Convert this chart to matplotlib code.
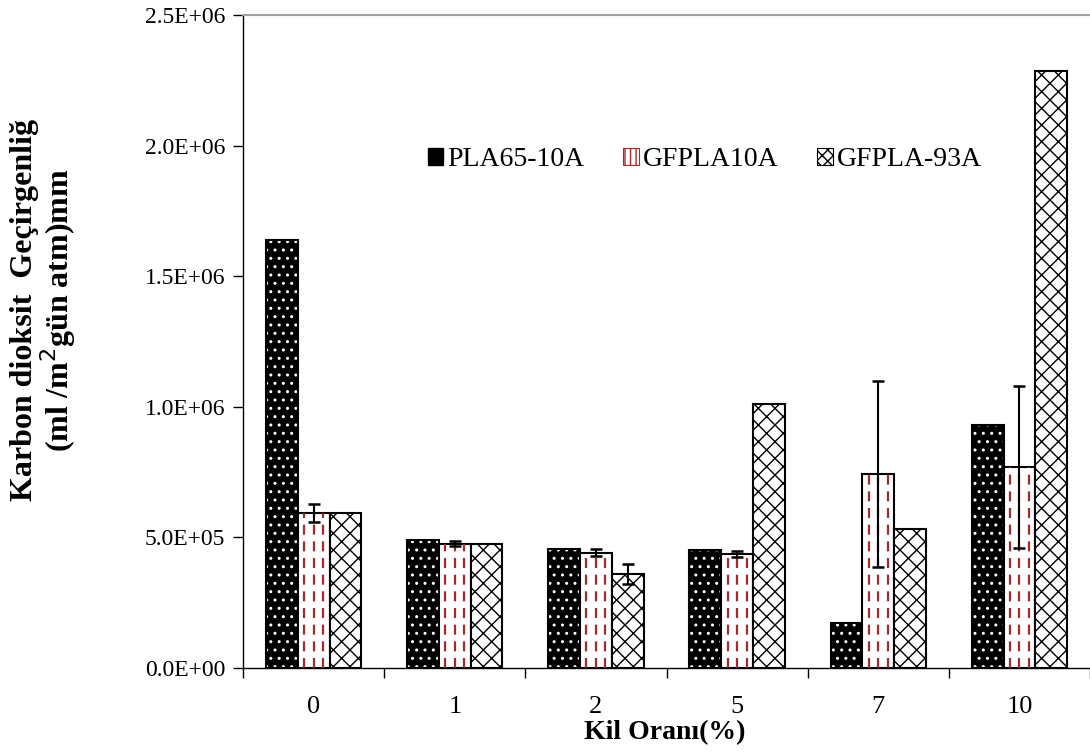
import numpy as np
import matplotlib
matplotlib.use("Agg")
import matplotlib.pyplot as plt
from matplotlib.patches import Patch

plt.rcParams['font.family'] = ['Liberation Serif', 'DejaVu Serif']
plt.rcParams['hatch.linewidth'] = 1.0

# clay ratio categories and CO2 permeability values
categories = ['0', '1', '2', '5', '7', '10']
series_names = ['PLA65-10A', 'GFPLA10A', 'GFPLA-93A']
pla65_10a = [1.64e6, 0.49e6, 0.455e6, 0.452e6, 0.173e6, 0.93e6]
gfpla10a = [0.593e6, 0.476e6, 0.442e6, 0.437e6, 0.743e6, 0.77e6]
gfpla93a = [0.593e6, 0.473e6, 0.359e6, 1.011e6, 0.531e6, 2.285e6]
gfpla10a_err = [0.035e6, 0.01e6, 0.012e6, 0.012e6, 0.355e6, 0.31e6]
gfpla93a_err = [0.0, 0.0, 0.038e6, 0.0, 0.0, 0.0]

x = np.arange(len(categories))
w = 0.225
dark_red = '#a52a2a'

fig = plt.figure(figsize=(10.9, 7.56), dpi=100)
ax = fig.add_axes([0.223, 0.1164, 0.777, 0.8638])

# PLA65-10A: black with white dots
ax.bar(x - w, pla65_10a, w, color='black', edgecolor='white', hatch='..', linewidth=0)
ax.bar(x - w, pla65_10a, w, facecolor='none', edgecolor='black', linewidth=1.5)

# GFPLA10A: white with dashed dark red verticals
ax.bar(x, gfpla10a, w, color='white', linewidth=0)
for xi, h in zip(x, gfpla10a):
    for f in (0.2, 0.5, 0.8):
        ax.vlines(xi - w / 2 + f * w, 0, h, colors=dark_red, linewidth=1.6,
                  linestyles=(0, (4.5, 3)))
ax.bar(x, gfpla10a, w, facecolor='none', edgecolor='black', linewidth=1.5)

# GFPLA-93A: diagonal brick-like hatch
ax.bar(x + w, gfpla93a, w, color='white', edgecolor='black', hatch='xx', linewidth=0)
ax.bar(x + w, gfpla93a, w, facecolor='none', edgecolor='black', linewidth=1.5)

# error bars
for xs, vals, errs in ((x, gfpla10a, gfpla10a_err), (x + w, gfpla93a, gfpla93a_err)):
    for xi, v, e in zip(xs, vals, errs):
        if e > 0:
            ax.errorbar(xi, v, yerr=e, fmt='none', ecolor='black', elinewidth=1.5,
                        capsize=4.5, capthick=1.8)

ax.set_xlim(-0.5, len(categories) - 0.5)
ax.set_ylim(0, 2.5e6)
yt = np.arange(0, 2.51e6, 0.5e6)
ax.set_yticks(yt)
ax.set_yticklabels(['%.1E' % v for v in yt])
ax.set_xticks(x)
ax.set_xticklabels(categories)
ax.set_xticks(np.arange(-0.5, len(categories), 1.0), minor=True)
ax.tick_params(axis='x', which='major', length=0, pad=20, labelsize=19)
ax.tick_params(axis='x', which='minor', direction='out', length=7, width=1)
ax.tick_params(axis='y', direction='out', length=7, width=1, labelsize=17, pad=6)

ax.spines['right'].set_visible(False)
ax.spines['top'].set_color('#a0a0a0')
ax.spines['top'].set_linewidth(1.5)
ax.spines['left'].set_linewidth(1)
ax.spines['bottom'].set_linewidth(1)

fig.text(665 / 1090, 1 - 733 / 756, 'Kil Oranı(%)', ha='center', va='center',
         fontsize=20, fontweight='bold')
fig.text(44 / 1090, 1 - 310 / 756,
         'Karbon dioksit  Geçirgenliğ\n(ml /m$^2$gün atm)mm',
         rotation=90, ha='center', va='center', ma='center',
         fontsize=23, fontweight='bold', linespacing=0.95)

handles = [
    Patch(facecolor='black', edgecolor='black'),
    Patch(facecolor='white', edgecolor=dark_red, hatch='|||', linewidth=0.8),
    Patch(facecolor='white', edgecolor='black', hatch='xxx', linewidth=0.8),
]
ax.legend(handles, series_names, loc='center left', ncol=3, frameon=False,
          bbox_to_anchor=(414 / 1090, 1 - 160 / 756), bbox_transform=fig.transFigure,
          fontsize=20, handlelength=0.55, handleheight=0.55, handletextpad=0.15,
          columnspacing=1.4, borderpad=0)

fig.savefig('out.png', dpi=100)
